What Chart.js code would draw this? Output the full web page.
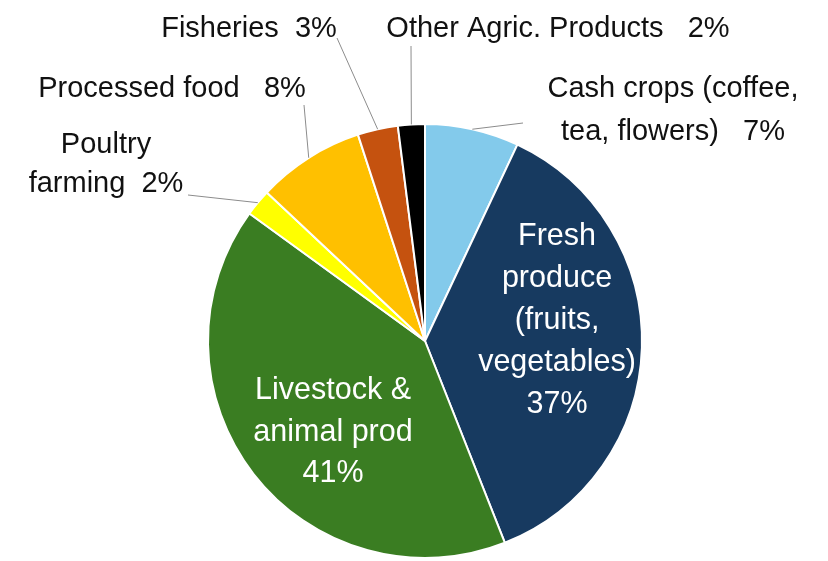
<!DOCTYPE html>
<html>
<head>
<meta charset="utf-8">
<script src="https://cdn.jsdelivr.net/npm/chart.js@4.4.1/dist/chart.umd.min.js"></script>
<style>
    html, body { margin: 0; padding: 0; background: #fff; }
    #wrap { width: 828px; height: 561px; }
</style>
</head>
<body>
<div id="wrap"><canvas id="agriPie" width="828" height="561"></canvas></div>
<script>
// Share of agricultural exports by sector (%)
var sectorNames = [
    'Cash crops (coffee, tea, flowers)',
    'Fresh produce (fruits, vegetables)',
    'Livestock & animal prod',
    'Poultry farming',
    'Processed food',
    'Fisheries',
    'Other Agric. Products'
];
var sectorShare = [7, 37, 41, 2, 8, 3, 2];
var sectorColors = ['#83CAEB', '#173A60', '#3A7D22', '#FFFF00', '#FFC000', '#C5520F', '#000000'];

// how each slice label is laid out: text lines, anchor, inside/outside
var labelLayout = [
    { lines: ['Cash crops (coffee,', 'tea, flowers)   {v}'], x: 673, y: 97, lh: 43, inside: false, lineFrom: [523, 123] },
    { lines: ['Fresh', 'produce', '(fruits,', 'vegetables)', '{v}'], x: 557, y: 245, lh: 42, inside: true },
    { lines: ['Livestock &', 'animal prod', '{v}'], x: 333, y: 399, lh: 41.5, inside: true },
    { lines: ['Poultry', 'farming  {v}'], x: 106, y: 153, lh: 39, inside: false, lineFrom: [188, 195] },
    { lines: ['Processed food   {v}'], x: 172, y: 97, lh: 0, inside: false, lineFrom: [304, 105] },
    { lines: ['Fisheries  {v}'], x: 249, y: 37, lh: 0, inside: false, lineFrom: [337, 38] },
    { lines: ['Other Agric. Products   {v}'], x: 558, y: 37, lh: 0, inside: false, lineFrom: [411, 46] }
];

const FONT_OUT = '29px "Liberation Sans", Arial, sans-serif';
const FONT_IN = '30.5px "Liberation Sans", Arial, sans-serif';

const sliceLabels = {
    id: 'sliceLabels',
    afterDatasetsDraw(chart) {
        const ctx = chart.ctx;
        const arcs = chart.getDatasetMeta(0).data;
        ctx.save();
        ctx.textAlign = 'center';
        ctx.textBaseline = 'alphabetic';
        arcs.forEach((arc, i) => {
            const lay = labelLayout[i];
            const pct = sectorShare[i] + '%';
            if (!lay.inside) {
                // leader line from label to the slice's outer edge
                const p = arc.getProps(['x', 'y', 'startAngle', 'endAngle', 'outerRadius'], true);
                const mid = (p.startAngle + p.endAngle) / 2;
                const ex = p.x + Math.cos(mid) * p.outerRadius;
                const ey = p.y + Math.sin(mid) * p.outerRadius;
                ctx.strokeStyle = '#8c8c8c';
                ctx.lineWidth = 1;
                ctx.beginPath();
                ctx.moveTo(lay.lineFrom[0], lay.lineFrom[1]);
                ctx.lineTo(ex, ey);
                ctx.stroke();
            }
            ctx.font = lay.inside ? FONT_IN : FONT_OUT;
            ctx.fillStyle = lay.inside ? '#ffffff' : '#111111';
            lay.lines.forEach((ln, k) => {
                ctx.fillText(ln.replace('{v}', pct), lay.x, lay.y + k * lay.lh);
            });
        });
        ctx.restore();
    }
};

new Chart(document.getElementById('agriPie'), {
    type: 'pie',
    data: {
        labels: sectorNames,
        datasets: [{
            data: sectorShare,
            backgroundColor: sectorColors,
            borderColor: '#ffffff',
            borderWidth: 2
        }]
    },
    options: {
        responsive: false,
        animation: false,
        layout: { padding: { top: 123, bottom: 2, left: 207, right: 185 } },
        plugins: {
            legend: { display: false },
            tooltip: { enabled: false }
        }
    },
    plugins: [sliceLabels]
});
</script>
</body>
</html>
